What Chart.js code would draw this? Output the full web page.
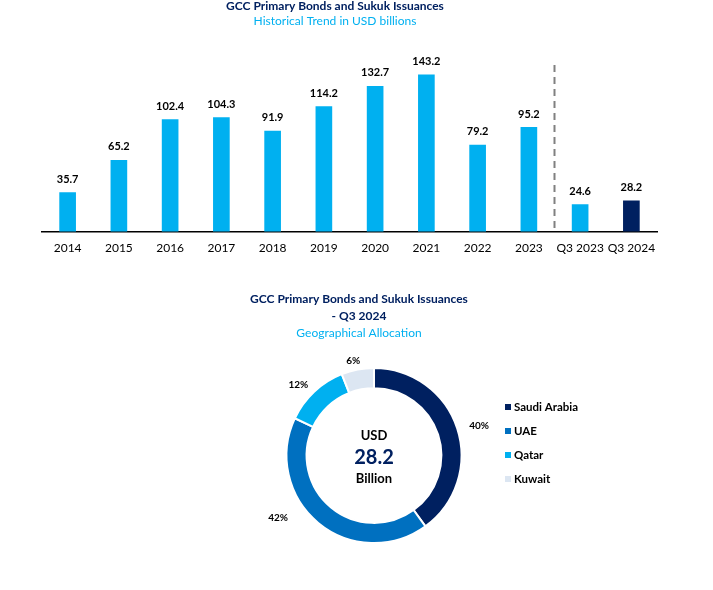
<!DOCTYPE html>
<html>
<head>
<meta charset="utf-8">
<script src="https://cdn.jsdelivr.net/npm/chart.js@4/dist/chart.umd.min.js"></script>
<style>
  html, body { margin: 0; padding: 0; background: #fff; }
  #wrap { position: relative; width: 713px; height: 590px; }
  #barBox { position: absolute; left: 0; top: 0; width: 713px; height: 290px; }
  #pieBox { position: absolute; left: 0; top: 290px; width: 713px; height: 300px; }
</style>
</head>
<body>
<div id="wrap">
  <div id="barBox"><canvas id="barChart"></canvas></div>
  <div id="pieBox"><canvas id="pieChart"></canvas></div>
</div>
<script>
// Données
const years = ['2014', '2015', '2016', '2017', '2018', '2019', '2020', '2021', '2022', '2023', 'Q3 2023', 'Q3 2024'];
const issuances = [35.7, 65.2, 102.4, 104.3, 91.9, 114.2, 132.7, 143.2, 79.2, 95.2, 24.6, 28.2];
const countries = ['Saudi Arabia', 'UAE', 'Qatar', 'Kuwait'];
const shares = [40, 42, 12, 6];
const totalQ3 = 28.2;

const NAVY = '#002060';
const CYAN = '#00B0F0';
const FONT = 'Lato, "Liberation Sans", sans-serif';

Chart.defaults.font.family = FONT;
Chart.defaults.color = '#000';

// Titres dessinés à la main (centrés hors zone du graphique)
function drawTitles(ctx, x, lines) {
  ctx.save();
  ctx.textAlign = 'center';
  ctx.textBaseline = 'middle';
  lines.forEach(l => {
    ctx.font = (l.bold ? 'bold ' : '') + '12px ' + FONT;
    ctx.fillStyle = l.color;
    ctx.fillText(l.text, x, l.y);
  });
  ctx.restore();
}

// Étiquettes au-dessus des barres + séparateur pointillé
const barExtras = {
  id: 'barExtras',
  afterDatasetsDraw(chart) {
    const ctx = chart.ctx;
    const meta = chart.getDatasetMeta(0);
    drawTitles(ctx, 335, [
      { text: 'GCC Primary Bonds and Sukuk Issuances', color: NAVY, bold: true, y: 6 },
      { text: 'Historical Trend in USD billions', color: CYAN, bold: false, y: 21 }
    ]);
    ctx.save();
    ctx.font = 'bold 11px ' + FONT;
    ctx.fillStyle = '#000';
    ctx.textAlign = 'center';
    ctx.textBaseline = 'bottom';
    meta.data.forEach((bar, i) => {
      ctx.fillText(chart.data.datasets[0].data[i].toFixed(1), bar.x, bar.y - 8);
    });
    // ligne entre 2023 et Q3 2023
    const x = (meta.data[9].x + meta.data[10].x) / 2;
    ctx.strokeStyle = '#808080';
    ctx.lineWidth = 2;
    ctx.setLineDash([7, 5]);
    ctx.beginPath();
    ctx.moveTo(x, chart.chartArea.top + 15);
    ctx.lineTo(x, chart.chartArea.bottom);
    ctx.stroke();
    ctx.restore();
  }
};

new Chart(document.getElementById('barChart'), {
  type: 'bar',
  data: {
    labels: years,
    datasets: [{
      data: issuances,
      backgroundColor: years.map((y, i) => i === years.length - 1 ? NAVY : CYAN),
      barThickness: 16
    }]
  },
  options: {
    responsive: true,
    maintainAspectRatio: false,
    animation: false,
    layout: { padding: { left: 42, right: 56, top: 50, bottom: 26 } },
    plugins: {
      legend: { display: false },
      tooltip: { enabled: false }
    },
    scales: {
      x: {
        grid: { display: false, drawTicks: false },
        border: { display: true, color: '#000', width: 1.5 },
        ticks: { color: '#000', font: { size: 12 }, padding: 9, autoSkip: false, maxRotation: 0 }
      },
      y: { display: false, min: 0, max: 166 }
    }
  },
  plugins: [barExtras]
});

// Texte central, pourcentages et légende
const pieExtras = {
  id: 'pieExtras',
  afterDatasetsDraw(chart) {
    const ctx = chart.ctx;
    const meta = chart.getDatasetMeta(0);
    const arc0 = meta.data[0];
    const cx = arc0.x, cy = arc0.y, r = arc0.outerRadius;
    drawTitles(ctx, 359, [
      { text: 'GCC Primary Bonds and Sukuk Issuances', color: NAVY, bold: true, y: 9 },
      { text: '- Q3 2024', color: NAVY, bold: true, y: 26 },
      { text: 'Geographical Allocation', color: CYAN, bold: false, y: 43 }
    ]);
    ctx.save();
    ctx.textAlign = 'center';
    ctx.textBaseline = 'middle';
    ctx.fillStyle = '#000';
    ctx.font = 'bold 13px ' + FONT;
    ctx.fillText('USD', cx, cy - 20);
    ctx.fillStyle = NAVY;
    ctx.font = 'bold 20px ' + FONT;
    ctx.fillText(totalQ3.toFixed(1), cx, cy + 2);
    ctx.fillStyle = '#000';
    ctx.font = 'bold 13px ' + FONT;
    ctx.fillText('Billion', cx, cy + 23);

    // pourcentages
    ctx.font = 'bold 10px ' + FONT;
    meta.data.forEach((arc, i) => {
      const a = (arc.startAngle + arc.endAngle) / 2;
      const out = Math.sin(a) > 0.5 && Math.cos(a) < 0 ? 16 : 0;
      const lx = cx + Math.cos(a) * (r + 23 + out * 2.5);
      const ly = cy + Math.sin(a) * (r + 9 - out);
      ctx.fillText(shares[i] + '%', lx, ly);
    });

    // légende
    const colors = chart.data.datasets[0].backgroundColor;
    ctx.textAlign = 'left';
    ctx.font = 'bold 11.5px ' + FONT;
    countries.forEach((c, i) => {
      const y = 117 + i * 24;
      ctx.fillStyle = colors[i];
      ctx.fillRect(505, y - 3, 6, 6);
      ctx.fillStyle = '#000';
      ctx.fillText(c, 514, y);
    });
    ctx.restore();
  }
};

new Chart(document.getElementById('pieChart'), {
  type: 'doughnut',
  data: {
    labels: countries,
    datasets: [{
      data: shares,
      backgroundColor: [NAVY, '#0070C0', CYAN, '#DCE6F2'],
      borderColor: '#fff',
      borderWidth: 2
    }]
  },
  options: {
    responsive: true,
    maintainAspectRatio: false,
    animation: false,
    cutout: '77%',
    layout: { padding: { left: 285, right: 250, top: 77, bottom: 46 } },
    plugins: {
      legend: { display: false },
      tooltip: { enabled: false }
    }
  },
  plugins: [pieExtras]
});
</script>
</body>
</html>
